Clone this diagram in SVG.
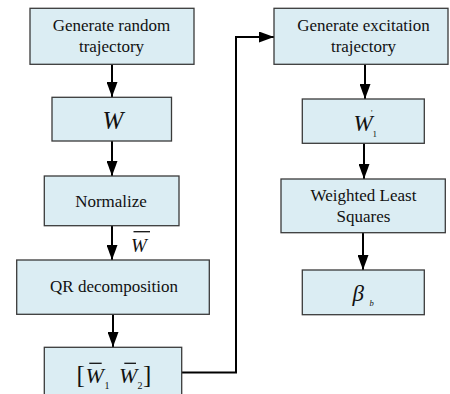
<svg xmlns="http://www.w3.org/2000/svg" width="450" height="394" viewBox="0 0 450 394">
<style>
text{font-family:"Liberation Serif","DejaVu Serif","Noto Serif","Times New Roman",serif}
.box{fill:#dbedf3;stroke:#3a3a3a;stroke-width:1.3}
.t{font-size:17px;fill:#111;text-anchor:middle}
.m{font-style:italic;fill:#111}
.u{fill:#111}
.it{font-style:italic}
.c{fill:none;stroke:#000;stroke-width:2}
.bar{stroke:#111;stroke-width:1.3}
</style>
<defs>
<marker id="ah" markerUnits="userSpaceOnUse" markerWidth="15" markerHeight="11" refX="15" refY="5.5" orient="auto">
<path d="M0,0 L15,5.5 L0,11 z" fill="#000"/>
</marker>
</defs>
<rect width="450" height="394" fill="#fff"/>
<g id="connectors">
<line class="c" x1="112" y1="64" x2="112" y2="97" marker-end="url(#ah)"/>
<line class="c" x1="112" y1="141" x2="112" y2="176" marker-end="url(#ah)"/>
<line class="c" x1="112" y1="226" x2="112" y2="260" marker-end="url(#ah)"/>
<line class="c" x1="113" y1="314" x2="113" y2="347" marker-end="url(#ah)"/>
<polyline class="c" points="182,372.5 236,372.5 236,37 274,37" marker-end="url(#ah)"/>
<line class="c" x1="365" y1="64" x2="365" y2="99" marker-end="url(#ah)"/>
<line class="c" x1="364" y1="143" x2="364" y2="179" marker-end="url(#ah)"/>
<line class="c" x1="363" y1="233" x2="363" y2="270" marker-end="url(#ah)"/>
<g id="wbar-label">
<text class="m" x="131" y="252" font-size="19">W</text>
<line class="bar" x1="133.5" y1="231.7" x2="150" y2="231.7"/>
</g>
</g>
<g id="gen-random">
<rect class="box" x="30" y="8.3" width="164" height="56"/>
<text class="t" x="111.5" y="31">Generate random</text>
<text class="t" x="111.5" y="52">trajectory</text>
</g>
<g id="w">
<rect class="box" x="52" y="97.3" width="119.5" height="43.7"/>
<text class="m" x="113" y="128.7" font-size="25" text-anchor="middle">W</text>
</g>
<g id="normalize">
<rect class="box" x="44.3" y="176" width="134.7" height="49.7"/>
<text class="t" x="111" y="206.7">Normalize</text>
</g>
<g id="qr">
<rect class="box" x="16.7" y="260" width="192.6" height="54.3"/>
<text class="t" x="114" y="292.3">QR decomposition</text>
</g>
<g id="w1w2">
<rect class="box" x="44.3" y="347.3" width="137.4" height="60"/>
<text class="u" font-size="25"><tspan x="76.5" y="383.3">[</tspan><tspan class="it" x="85.5" y="383.3" font-size="22">W</tspan><tspan x="104.5" y="389.3" font-size="10">1</tspan><tspan class="it" x="119" y="383.3" font-size="22">W</tspan><tspan x="137.5" y="389.3" font-size="10">2</tspan><tspan x="143" y="383.3">]</tspan></text>
<line class="bar" x1="89.3" y1="363.3" x2="101.7" y2="363.3"/>
<line class="bar" x1="124.3" y1="363.3" x2="136" y2="363.3"/>
</g>
<g id="gen-excitation">
<rect class="box" x="274" y="8.3" width="174" height="56"/>
<text class="t" x="363.5" y="31">Generate excitation</text>
<text class="t" x="363.5" y="52">trajectory</text>
</g>
<g id="w1p">
<rect class="box" x="302.3" y="99" width="122" height="44.3"/>
<text class="u" font-size="23"><tspan class="it" x="353.5" y="130.7">W</tspan><tspan x="371" y="116" font-size="8">'</tspan><tspan x="372.5" y="137.3" font-size="9">1</tspan></text>
</g>
<g id="wls">
<rect class="box" x="281" y="179" width="164.3" height="53.7"/>
<text class="t" x="363.5" y="200.7">Weighted Least</text>
<text class="t" x="363.5" y="221.7">Squares</text>
</g>
<g id="beta">
<rect class="box" x="302.3" y="270" width="122" height="44.7"/>
<text class="m" font-size="23"><tspan x="352.5" y="300.5">β</tspan><tspan x="369.5" y="306" font-size="8.5">b</tspan></text>
</g>
</svg>
